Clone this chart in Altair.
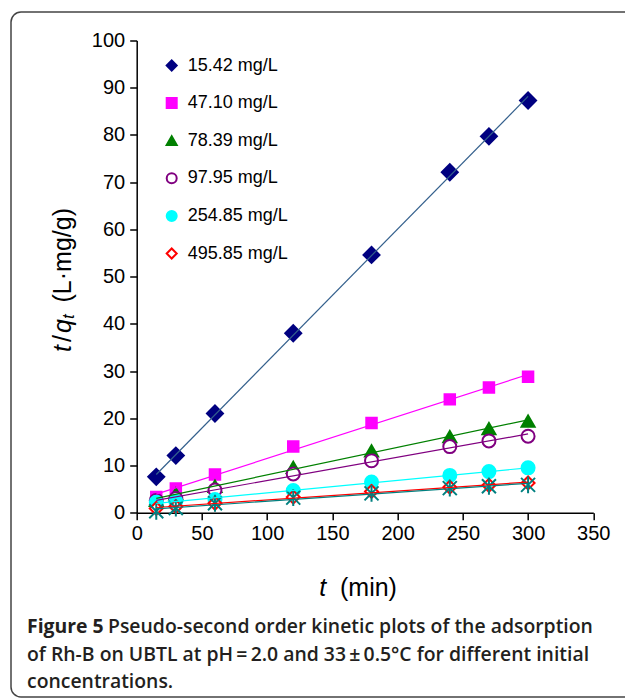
import altair as alt
import pandas as pd

# ---- data ----
t_min = [15, 30, 60, 120, 180, 240, 270, 300]
series_labels = ["15.42 mg/L", "47.10 mg/L", "78.39 mg/L", "97.95 mg/L",
                 "254.85 mg/L", "495.85 mg/L"]
s1 = [7.6, 12.1, 21.0, 38.0, 54.6, 72.1, 79.7, 87.3]
s2 = [3.3, 5.1, 8.1, 14.0, 19.0, 24.0, 26.5, 28.8]
s3 = [2.6, 4.0, 5.6, 9.6, 13.1, 16.1, 17.8, 19.4]
s4 = [2.6, 3.0, 4.8, 8.2, 11.0, 14.0, 15.2, 16.2]
s5 = [2.2, 2.4, 2.8, 4.7, 6.5, 7.9, 8.7, 9.5]
s6 = [0.9, 1.3, 2.0, 3.3, 4.5, 5.4, 5.8, 6.3]
s7 = [0.3, 1.0, 2.0, 3.2, 4.1, 5.2, 5.6, 5.9]   # unlabelled star series

x_ticks = [0, 50, 100, 150, 200, 250, 300, 350]
y_ticks = [0, 10, 20, 30, 40, 50, 60, 70, 80, 90, 100]

marker_stroke = ["#000080", "#FF00FF", "#008000", "#800080", "#00FFFF", "#FF0000"]
marker_fill = ["#000080", "#FF00FF", "#008000", "white", "#00FFFF", "white"]
marker_shape = ["diamond", "square", "triangle-up", "circle", "circle", "diamond"]
marker_size = [256, 110, 170, 169, 169, 169]
line_colors = ["#335f8c", "#FF00FF", "#008000", "#800080", "#00FFFF", "#FF0000"]

rows = []
for lab, vals in zip(series_labels, [s1, s2, s3, s4, s5, s6]):
    for t, v in zip(t_min, vals):
        rows.append({"series": lab, "t": t, "y": v})
df = pd.DataFrame(rows)
df7 = pd.DataFrame({"t": t_min, "y": s7})
one = pd.DataFrame({"a": [0]})

W, H = 456.6, 472.2
xs = alt.Scale(domain=[0, 350], nice=False)
ys = alt.Scale(domain=[0, 100], nice=False)

axis_common = dict(domainColor="black", domainWidth=1.5, tickColor="black",
                   tickWidth=1.5, tickSize=7, labelFont="Liberation Sans",
                   labelFontSize=20, labelColor="black", grid=False, title=None,
                   labelFlush=False)

X = alt.X("t:Q", scale=xs, axis=alt.Axis(values=x_ticks, labelPadding=4, **axis_common))
Y = alt.Y("y:Q", scale=ys, axis=alt.Axis(values=y_ticks, labelPadding=5, **axis_common))

frame = alt.Chart(one).mark_rect(
    fillOpacity=0, stroke="#444444", strokeWidth=1.5, cornerRadius=10
).encode(x=alt.value(-125.7), x2=alt.value(520), y=alt.value(-28.5), y2=alt.value(656.5))

# invisible layer that only supplies the legend
leg = alt.Legend(symbolOpacity=1)
legend_layer = alt.Chart(df).mark_point(opacity=0, strokeWidth=2, size=130).encode(
    x=X, y=Y,
    stroke=alt.Stroke("series:N", scale=alt.Scale(domain=series_labels, range=marker_stroke), title=None, legend=leg),
    fill=alt.Fill("series:N", scale=alt.Scale(domain=series_labels, range=marker_fill), title=None, legend=leg),
    shape=alt.Shape("series:N", scale=alt.Scale(domain=series_labels, range=marker_shape), title=None, legend=leg),
)

point_layers = []
for i, lab in enumerate(series_labels):
    point_layers.append(
        alt.Chart(df).transform_filter(alt.datum.series == lab).mark_point(
            shape=marker_shape[i], size=marker_size[i], stroke=marker_stroke[i],
            fill=marker_fill[i], strokeWidth=2, opacity=1
        ).encode(x=X, y=Y)
    )

star = "M-1,-1L1,1M-1,1L1,-1M0,-1.2L0,1.2"
points7 = alt.Chart(df7).mark_point(
    shape=star, size=196, stroke="#008080", strokeWidth=2, opacity=1
).encode(x=X, y=Y)

lines = alt.Chart(df).transform_regression(
    "t", "y", groupby=["series"]
).mark_line(strokeWidth=1.2).encode(
    x=X, y=Y,
    color=alt.Color("series:N", scale=alt.Scale(domain=series_labels, range=line_colors), legend=None),
)
line7 = alt.Chart(df7).transform_regression("t", "y").mark_line(
    strokeWidth=1.2, color="#008080").encode(x=X, y=Y)

def txt(s, x, y, size=25, style="normal", weight="normal", angle=0, align="left",
        font="Liberation Sans", color="black", baseline="middle"):
    return alt.Chart(one).mark_text(
        text=s, fontSize=size, fontStyle=style, fontWeight=weight, angle=angle,
        align=align, baseline=baseline, font=font, color=color
    ).encode(x=alt.value(x), y=alt.value(y))

# x title: t (min)
xt1 = txt("t", 186, 547.5, style="italic", align="center")
xt2 = txt("(min)", 203.3, 547.5)

# y title: t/q_t (L·mg/g), rotated
yx = -73.7
yt1 = txt("t", yx, 311.5, style="italic", angle=270)
yt2 = txt("/", yx, 301.5, angle=270)
yt3 = txt("q", yx, 292.5, style="italic", angle=270)
yt4 = txt("t", yx + 6, 278.5, size=17, style="italic", angle=270)
yt5 = txt("(L·mg/g)", yx, 262.0, angle=270)

cap_font = "Open Sans"
cap_col = "#231f20"
cs = 19.4
c1a = txt("Figure 5", -109.7, 586.5, size=cs, weight="bold", font=cap_font, color=cap_col)
c1b = txt("Pseudo-second order kinetic plots of the adsorption", -28.7, 586.5, size=cs,
          weight=600, font=cap_font, color=cap_col)
c2 = txt("of Rh-B on UBTL at pH\u2009=\u20092.0 and 33\u2009\u00b1\u20090.5°C for different initial",
         -109.7, 614.5, size=cs, weight=600, font=cap_font, color=cap_col)
c3 = txt("concentrations.", -109.7, 641.5, size=cs, weight=600, font=cap_font, color=cap_col)

chart = alt.layer(
    frame, legend_layer, *point_layers, points7, lines, line7,
    xt1, xt2, yt1, yt2, yt3, yt4, yt5, c1a, c1b, c2, c3
).resolve_scale(color="independent").properties(
    width=W, height=H,
    padding={"left": 136.7, "top": 40.5, "right": 31.7, "bottom": 186.3},
    autosize=alt.AutoSizeParams(type="none"),
).configure_view(stroke=None).configure_legend(
    orient="none", legendX=26, legendY=16, padding=0, labelFont="Liberation Sans",
    labelFontSize=18, labelColor="black", rowPadding=19.6, labelOffset=7,
    symbolStrokeWidth=2,
)

chart.save("out.html", embed_options={"renderer": "svg", "actions": False})
